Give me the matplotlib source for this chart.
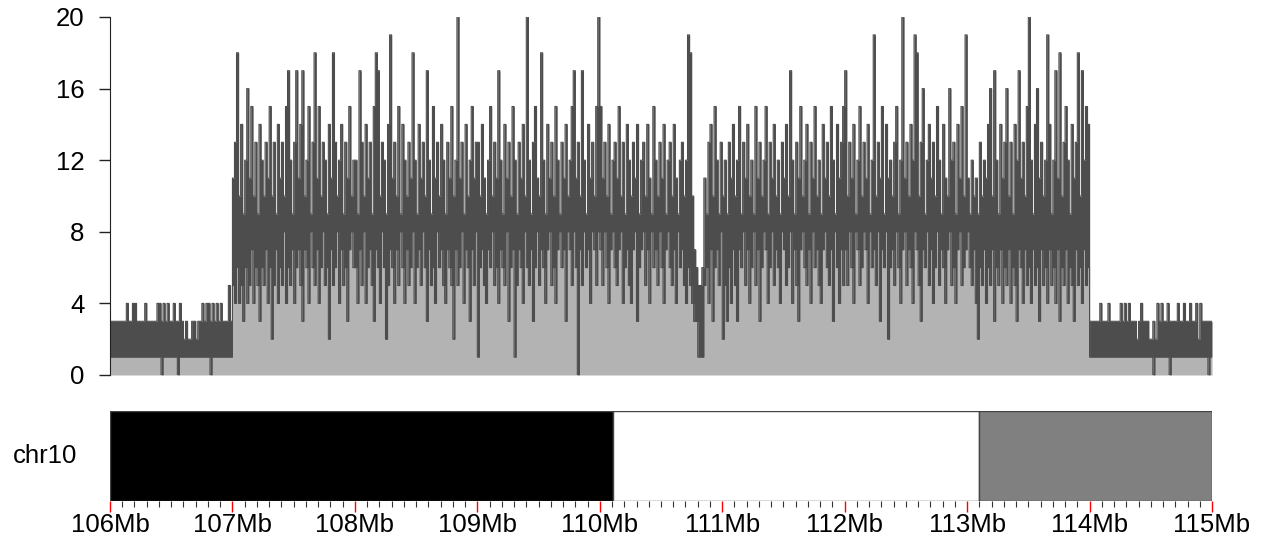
import numpy as np
import matplotlib
matplotlib.use("Agg")
from matplotlib import pyplot as plt

plt.rcParams['font.family'] = ['Liberation Sans', 'DejaVu Sans']

# coverage, 60 bins per Mb;
# for each bin the highest (cov_max_*) and lowest (cov_min_*) depth drawn in it
region_start = 106.0
region_end = 115.0
bins_per_mb = 60

cov_max_106 = [3,3,3,3,3,3,3,3,4,3, 3,4,4,3,3,3,3,4,3,3, 3,3,3,4,4,3,4,3,4,3,
               3,4,3,3,4,3,2,3,2,2, 3,3,2,3,3,4,3,4,4,3, 4,3,4,3,4,3,3,3,5,3]
cov_max_107 = [11,13,18,10,14,9,12,16,11,15, 10,13,9,14,12,10,13,11,15,10, 13,9,14,11,13,10,15,17,12,9,
               13,17,11,14,17,10,12,15,9,13, 18,11,15,10,13,12,9,14,11,18, 13,10,12,14,9,13,11,15,10,12]
cov_max_108 = [12,9,17,13,10,14,11,13,9,15, 18,17,10,13,12,9,14,19,11,13, 10,15,9,14,12,10,13,11,18,12,
               9,14,11,13,10,17,12,9,15,11, 13,10,14,12,9,13,11,15,10,12, 20,11,13,9,14,10,12,15,11,13]
cov_max_109 = [13,10,14,11,9,12,15,10,13,11, 17,12,9,14,11,13,10,15,12,9, 13,11,14,10,20,12,9,13,15,11,
               10,18,12,9,14,11,13,10,15,12, 9,13,11,14,10,12,15,17,11,13, 10,17,12,9,14,11,13,10,15,20]
cov_max_110 = [15,11,13,10,14,9,12,13,11,15, 10,13,9,14,12,10,13,11,14,9, 12,13,10,14,11,9,15,12,10,13,
               11,14,9,12,13,10,14,11,9,12, 13,10,12,19,18,10,7,6,5,5, 6,11,9,13,14,10,15,12,9,13]
cov_max_111 = [10,12,9,13,11,14,10,12,15,9, 13,11,14,10,12,9,15,11,13,10, 12,15,9,13,11,14,10,12,9,13,
               11,14,10,17,12,9,13,11,15,10, 12,14,9,13,11,15,10,12,9,14, 11,13,10,15,12,9,14,11,13,15]
cov_max_112 = [17,10,13,11,14,9,12,15,10,13, 11,14,9,12,19,10,13,11,15,9, 14,11,12,10,13,15,9,12,20,11,
               13,10,14,12,19,18,10,13,16,9, 12,14,11,13,10,15,12,9,14,11, 10,16,12,13,9,14,11,15,10,19]
cov_max_113 = [11,9,12,10,11,9,13,10,12,11, 14,16,10,17,12,9,14,11,13,16, 10,13,9,14,12,17,11,13,10,15,
               20,12,9,14,16,11,13,10,12,19, 14,9,12,17,11,18,10,13,15,12, 9,14,11,13,18,10,17,12,15,14]
cov_max_114 = [3,3,3,3,3,4,3,3,3,4, 3,3,3,3,3,4,3,4,3,4, 3,3,3,2,3,4,3,3,3,2,
               2,3,2,4,3,4,3,3,4,3, 3,3,3,4,3,3,4,3,3,4, 3,3,4,2,4,3,3,3,3,3]

cov_min_106 = [1,1,1,1,1,1,1,1,1,1, 1,1,1,1,1,1,1,1,1,1, 1,1,1,1,1,0,1,1,1,1,
               1,1,1,0,1,1,1,1,1,1, 1,1,1,1,1,1,1,1,1,0, 1,1,1,1,1,1,1,1,1,1]
cov_min_107 = [5,4,6,4,5,3,6,4,5,7, 4,6,5,3,6,5,7,4,6,2, 5,7,4,6,5,8,4,6,5,7,
               4,6,7,5,3,7,6,4,8,6, 5,7,4,6,8,5,6,2,7,5, 6,8,4,7,5,6,3,7,8,6]
cov_min_108 = [6,4,7,5,8,4,6,7,5,3, 7,6,4,8,6,2,5,7,6,4, 7,5,8,6,4,7,5,6,8,4,
               6,7,5,8,6,3,7,5,6,4, 8,6,7,5,4,7,6,5,2,7, 5,6,8,4,7,6,3,7,5,8]
cov_min_109 = [1,6,7,5,4,7,6,8,5,6, 4,7,6,5,8,3,6,7,1,5, 7,6,4,8,6,5,7,3,6,8,
               5,7,6,4,7,8,5,6,4,7, 8,6,7,3,8,7,5,8,6,0, 7,5,8,6,7,4,8,7,5,8]
cov_min_110 = [7,5,8,6,4,7,8,6,5,7, 8,4,6,7,5,4,7,8,3,6, 7,8,5,7,4,8,6,7,5,8,
               6,4,7,8,6,5,7,4,8,6, 7,5,4,6,5,4,3,3,1,1, 1,5,6,4,7,3,6,7,5,8]
cov_min_111 = [2,5,3,6,4,7,5,3,7,6, 8,5,7,4,6,8,5,7,3,6, 8,7,4,6,8,5,7,6,4,8,
               7,5,6,8,4,7,5,3,7,8, 6,5,7,4,8,6,7,5,4,7, 8,6,5,7,3,8,6,4,7,5]
cov_min_112 = [7,5,8,6,4,8,7,5,6,8, 7,4,8,6,7,5,8,3,7,6, 8,2,6,7,5,8,6,4,7,8,
               5,7,6,4,8,7,5,3,7,6, 8,5,7,4,6,8,5,7,6,4, 7,8,5,6,4,7,8,5,6,7]
cov_min_113 = [8,6,5,7,4,2,6,5,7,4, 6,5,7,3,6,5,7,4,6,5, 7,4,6,5,3,7,6,4,7,5,
               6,4,7,5,6,3,7,5,6,4, 7,5,6,4,7,3,6,5,7,4, 6,5,3,7,5,6,4,7,5,6]
cov_min_114 = [1,1,1,1,1,1,1,1,1,1, 1,1,1,1,1,1,1,1,1,1, 1,1,1,1,1,1,1,1,1,1,
               1,0,1,1,1,1,1,1,1,0, 1,1,1,1,1,1,1,1,1,1, 1,1,1,1,1,1,1,1,0,1]

cov_max = np.array(cov_max_106 + cov_max_107 + cov_max_108 + cov_max_109 + cov_max_110 +
                   cov_max_111 + cov_max_112 + cov_max_113 + cov_max_114, dtype=float)
cov_min = np.array(cov_min_106 + cov_min_107 + cov_min_108 + cov_min_109 + cov_min_110 +
                   cov_min_111 + cov_min_112 + cov_min_113 + cov_min_114, dtype=float)
positions = region_start + np.arange(len(cov_max)) / bins_per_mb

# ideogram bands
band_start = [106.0, 110.11, 113.1]
band_end = [110.11, 113.1, 115.0]
band_color = ['#000000', '#ffffff', '#808080']

major_ticks = list(range(106, 116))
major_labels = ['{}Mb'.format(m) for m in major_ticks]
y_ticks = [0, 4, 8, 12, 16, 20]

fig = plt.figure(figsize=(12.65, 5.37), dpi=100)

# coverage track
ax = fig.add_axes([110/1265, 1 - 375/537, 1102/1265, 358/537])
x = np.append(positions, region_end)
hi = np.append(cov_max, cov_max[-1])
lo = np.append(cov_min, cov_min[-1])
ax.fill_between(x, 0, lo, step='post', color='#b3b3b3', lw=0)
ax.fill_between(x, lo, hi, step='post', color='#4d4d4d', lw=0)
ax.step(x, hi, where='post', color='#4d4d4d', lw=0.8)
ax.step(x, lo, where='post', color='#4d4d4d', lw=0.8)
ax.set_xlim(region_start, region_end)
ax.set_ylim(0, 20)
ax.set_yticks(y_ticks)
ax.set_xticks([])
for s in ['top', 'right', 'bottom']:
    ax.spines[s].set_visible(False)
ax.spines['left'].set_bounds(0, 20)
ax.spines['left'].set_color('#222222')
ax.tick_params(axis='y', length=8, width=1, pad=10.5, labelsize=18.5, colors='#222222', labelcolor='black')

# ideogram
ax2 = fig.add_axes([110/1265, 1 - 501/537, 1102/1265, 90/537])
for s0, s1, c in zip(band_start, band_end, band_color):
    ax2.barh(0.5, s1 - s0, left=s0, height=1.0, color=c, edgecolor='#444444', lw=1.0)
ax2.set_xlim(region_start, region_end)
ax2.set_ylim(0, 1)
ax2.set_yticks([])
for s in ax2.spines.values():
    s.set_visible(False)
ax2.set_xticks(major_ticks)
ax2.set_xticklabels(major_labels)
ax2.set_xticks(np.arange(106, 115.01, 0.1), minor=True)
ax2.tick_params(axis='x', which='major', length=8, width=1, color='red', labelsize=18.5, pad=1)
ax2.tick_params(axis='x', which='minor', length=4, width=0.8, color='#333333')
ax2.text(-0.059, 0.5, 'chr10', transform=ax2.transAxes, ha='center', va='center', fontsize=18.5)

fig.savefig('out.png', dpi=100)
